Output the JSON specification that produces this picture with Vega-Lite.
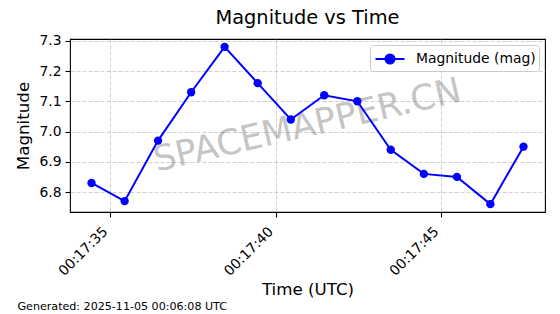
{
  "$schema": "https://vega.github.io/schema/vega-lite/v6.json",
  "width": 475,
  "height": 173,
  "autosize": "none",
  "padding": {"left": 70, "top": 39, "right": 15, "bottom": 102},
  "background": "white",
  "title": {"text": "Magnitude vs Time", "fontSize": 19.4, "font": "DejaVu Sans", "fontWeight": "normal", "color": "#000000", "offset": 5},
  "config": {
    "font": "DejaVu Sans",
    "view": {"stroke": "#000000", "strokeWidth": 1.1},
    "axis": {
      "domain": false,
      "labelFont": "DejaVu Sans", "labelFontSize": 13.9, "labelColor": "#000000",
      "tickColor": "#000000", "tickSize": 5, "tickWidth": 1.1, "labelPadding": 4,
      "titleFont": "DejaVu Sans", "titleFontSize": 16.7, "titleFontWeight": "normal", "titleColor": "#000000",
      "gridColor": "#b0b0b0", "gridOpacity": 0.6, "gridDash": [4, 2], "gridWidth": 1
    }
  },
  "data": {"values": [
    {"t": "2025-11-05T00:17:34.440Z", "v": 6.83},
    {"t": "2025-11-05T00:17:35.440Z", "v": 6.77},
    {"t": "2025-11-05T00:17:36.450Z", "v": 6.97},
    {"t": "2025-11-05T00:17:37.450Z", "v": 7.13},
    {"t": "2025-11-05T00:17:38.460Z", "v": 7.28},
    {"t": "2025-11-05T00:17:39.460Z", "v": 7.16},
    {"t": "2025-11-05T00:17:40.460Z", "v": 7.04},
    {"t": "2025-11-05T00:17:41.470Z", "v": 7.12},
    {"t": "2025-11-05T00:17:42.470Z", "v": 7.10},
    {"t": "2025-11-05T00:17:43.480Z", "v": 6.94},
    {"t": "2025-11-05T00:17:44.480Z", "v": 6.86},
    {"t": "2025-11-05T00:17:45.480Z", "v": 6.85},
    {"t": "2025-11-05T00:17:46.490Z", "v": 6.76},
    {"t": "2025-11-05T00:17:47.490Z", "v": 6.95}
  ]},
  "resolve": {"axis": {"x": "independent", "y": "independent"}},
  "layer": [
    {
      "data": {"values": [{}]},
      "mark": {"type": "text", "text": "SPACEMAPPER.CN", "font": "DejaVu Sans", "fontSize": 35, "angle": -13, "fill": "#808080", "opacity": 0.45, "align": "center", "baseline": "middle"},
      "encoding": {
        "x": {"datum": {"year": 2025, "month": 11, "date": 5, "hours": 0, "minutes": 17, "seconds": 40, "milliseconds": 960, "utc": true}, "type": "temporal",
          "axis": {"orient": "bottom", "title": "Generated: 2025-11-05 00:06:08 UTC", "labels": false, "ticks": false, "domain": false, "grid": false, "titleX": -53, "titleY": 97.5, "titleAlign": "left", "titleAnchor": "start", "titleBaseline": "alphabetic", "titleFontSize": 11.1, "titlePadding": 0}},
        "y": {"datum": 7.02, "type": "quantitative", "axis": null}
      }
    },
    {
      "mark": {"type": "line", "color": "#0000ff", "strokeWidth": 2, "point": {"filled": true, "size": 70, "color": "#0000ff", "opacity": 1}},
      "encoding": {
        "x": {"field": "t", "type": "temporal",
          "scale": {"type": "utc", "nice": false, "domain": [
            {"year": 2025, "month": 11, "date": 5, "hours": 0, "minutes": 17, "seconds": 33, "milliseconds": 790, "utc": true},
            {"year": 2025, "month": 11, "date": 5, "hours": 0, "minutes": 17, "seconds": 48, "milliseconds": 140, "utc": true}
          ]},
          "axis": {"orient": "bottom", "title": "Time (UTC)", "labelExpr": "utcFormat(datum.value, '%H:%M:%S')", "grid": true,
            "values": [
              {"year": 2025, "month": 11, "date": 5, "hours": 0, "minutes": 17, "seconds": 35, "utc": true},
              {"year": 2025, "month": 11, "date": 5, "hours": 0, "minutes": 17, "seconds": 40, "utc": true},
              {"year": 2025, "month": 11, "date": 5, "hours": 0, "minutes": 17, "seconds": 45, "utc": true}
            ],
            "labelAngle": -45, "labelAlign": "right", "labelBaseline": "bottom", "labelPadding": 17,
            "titleX": 237.5, "titleY": 82.5, "titleAlign": "center", "titleBaseline": "alphabetic"}},
        "y": {"field": "v", "type": "quantitative",
          "scale": {"domain": [6.734, 7.306], "zero": false, "nice": false},
          "axis": {"orient": "left", "title": "Magnitude", "values": [6.8, 6.9, 7.0, 7.1, 7.2, 7.3], "format": ".1f", "grid": true, "titlePadding": 6}},
        "color": {"datum": "Magnitude (mag)", "type": "nominal",
          "scale": {"range": ["#0000ff"]},
          "legend": {"title": null, "orient": "top-right", "offset": 6, "padding": 3, "strokeColor": "#cccccc", "fillColor": "#ffffff", "cornerRadius": 3,
            "labelFontSize": 13.9, "labelFont": "DejaVu Sans", "labelColor": "#000000",
            "symbolType": "M-1.45,0H1.45M0.45,0A0.45,0.45,0,1,1,-0.45,0A0.45,0.45,0,1,1,0.45,0Z",
            "symbolSize": 400, "symbolStrokeWidth": 2, "symbolFillColor": "#0000ff", "symbolStrokeColor": "#0000ff", "symbolOffset": 6, "labelOffset": 15}}
      }
    }
  ]
}
